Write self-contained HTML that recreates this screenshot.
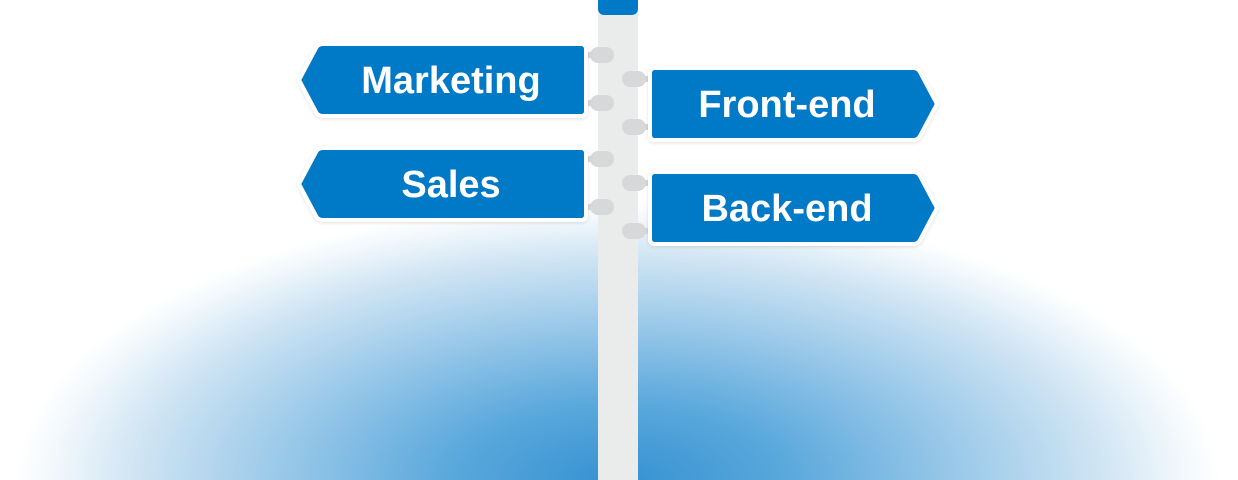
<!DOCTYPE html>
<html><head><meta charset="utf-8"><style>
html,body{margin:0;padding:0;width:1238px;height:480px;overflow:hidden;background:#fff;}
.bg{position:absolute;left:0;top:0;width:1238px;height:480px;
background:radial-gradient(ellipse 602px 280px at 618px 482px, #3591d0 0%, #5aa8dc 28%, #97c7e8 55%, #cfe4f3 80%, #f2f8fc 94%, rgba(255,255,255,0) 100%);}
.pole{position:absolute;left:598px;top:0;width:40px;height:480px;background:#eaebeb;}
.cap2{position:absolute;left:598px;top:-6px;width:40px;height:21px;background:#0079c6;border-radius:6px;}
.peg{position:absolute;width:24px;height:16px;background:#d6d8d9;border-radius:8px;}
.stub{position:absolute;width:8px;height:6px;background:#d6d8d9;}
svg{position:absolute;left:0;top:0;}
.t{font-family:"Liberation Sans",sans-serif;font-weight:bold;font-size:38px;fill:#fff;}
</style></head><body>
<div class="bg"></div>
<div class="pole"></div>
<div class="cap2"></div>
<div class="peg" style="left:590px;top:47px"></div><div class="stub" style="left:586px;top:52px"></div>
<div class="peg" style="left:590px;top:95px"></div><div class="stub" style="left:586px;top:100px"></div>
<div class="peg" style="left:590px;top:151px"></div><div class="stub" style="left:586px;top:156px"></div>
<div class="peg" style="left:590px;top:199px"></div><div class="stub" style="left:586px;top:204px"></div>
<div class="peg" style="left:622px;top:71px"></div><div class="stub" style="left:643px;top:76px"></div>
<div class="peg" style="left:622px;top:119px"></div><div class="stub" style="left:643px;top:124px"></div>
<div class="peg" style="left:622px;top:175px"></div><div class="stub" style="left:643px;top:180px"></div>
<div class="peg" style="left:622px;top:223px"></div><div class="stub" style="left:643px;top:228px"></div>
<svg width="1238" height="480">
<defs>
<filter id="sh" x="-10%" y="-20%" width="120%" height="140%"><feDropShadow dx="0" dy="1" stdDeviation="1.5" flood-color="#000" flood-opacity="0.12"/></filter>
</defs>
<g stroke="#fff" stroke-width="4" stroke-linejoin="round" fill="#0079c6" filter="url(#sh)">
<path d="M323,44 L581,44 Q586,44 586,49 L586,111 Q586,116 581,116 L323,116 Q318,116 316,112 L299,80 L316,48 Q318,44 323,44Z"/>
<path d="M323,148 L581,148 Q586,148 586,153 L586,215 Q586,220 581,220 L323,220 Q318,220 316,216 L299,184 L316,152 Q318,148 323,148Z"/>
<path d="M655,68 L913,68 Q918,68 920,72 L937,104 L920,136 Q918,140 913,140 L655,140 Q650,140 650,135 L650,73 Q650,68 655,68Z"/>
<path d="M655,172 L913,172 Q918,172 920,176 L937,208 L920,240 Q918,244 913,244 L655,244 Q650,244 650,239 L650,177 Q650,172 655,172Z"/>
</g>
<text class="t" x="451" y="93" text-anchor="middle">Marketing</text>
<text class="t" x="451" y="197" text-anchor="middle">Sales</text>
<text class="t" x="787" y="117" text-anchor="middle">Front-end</text>
<text class="t" x="787" y="221" text-anchor="middle">Back-end</text>
</svg>
</body></html>
